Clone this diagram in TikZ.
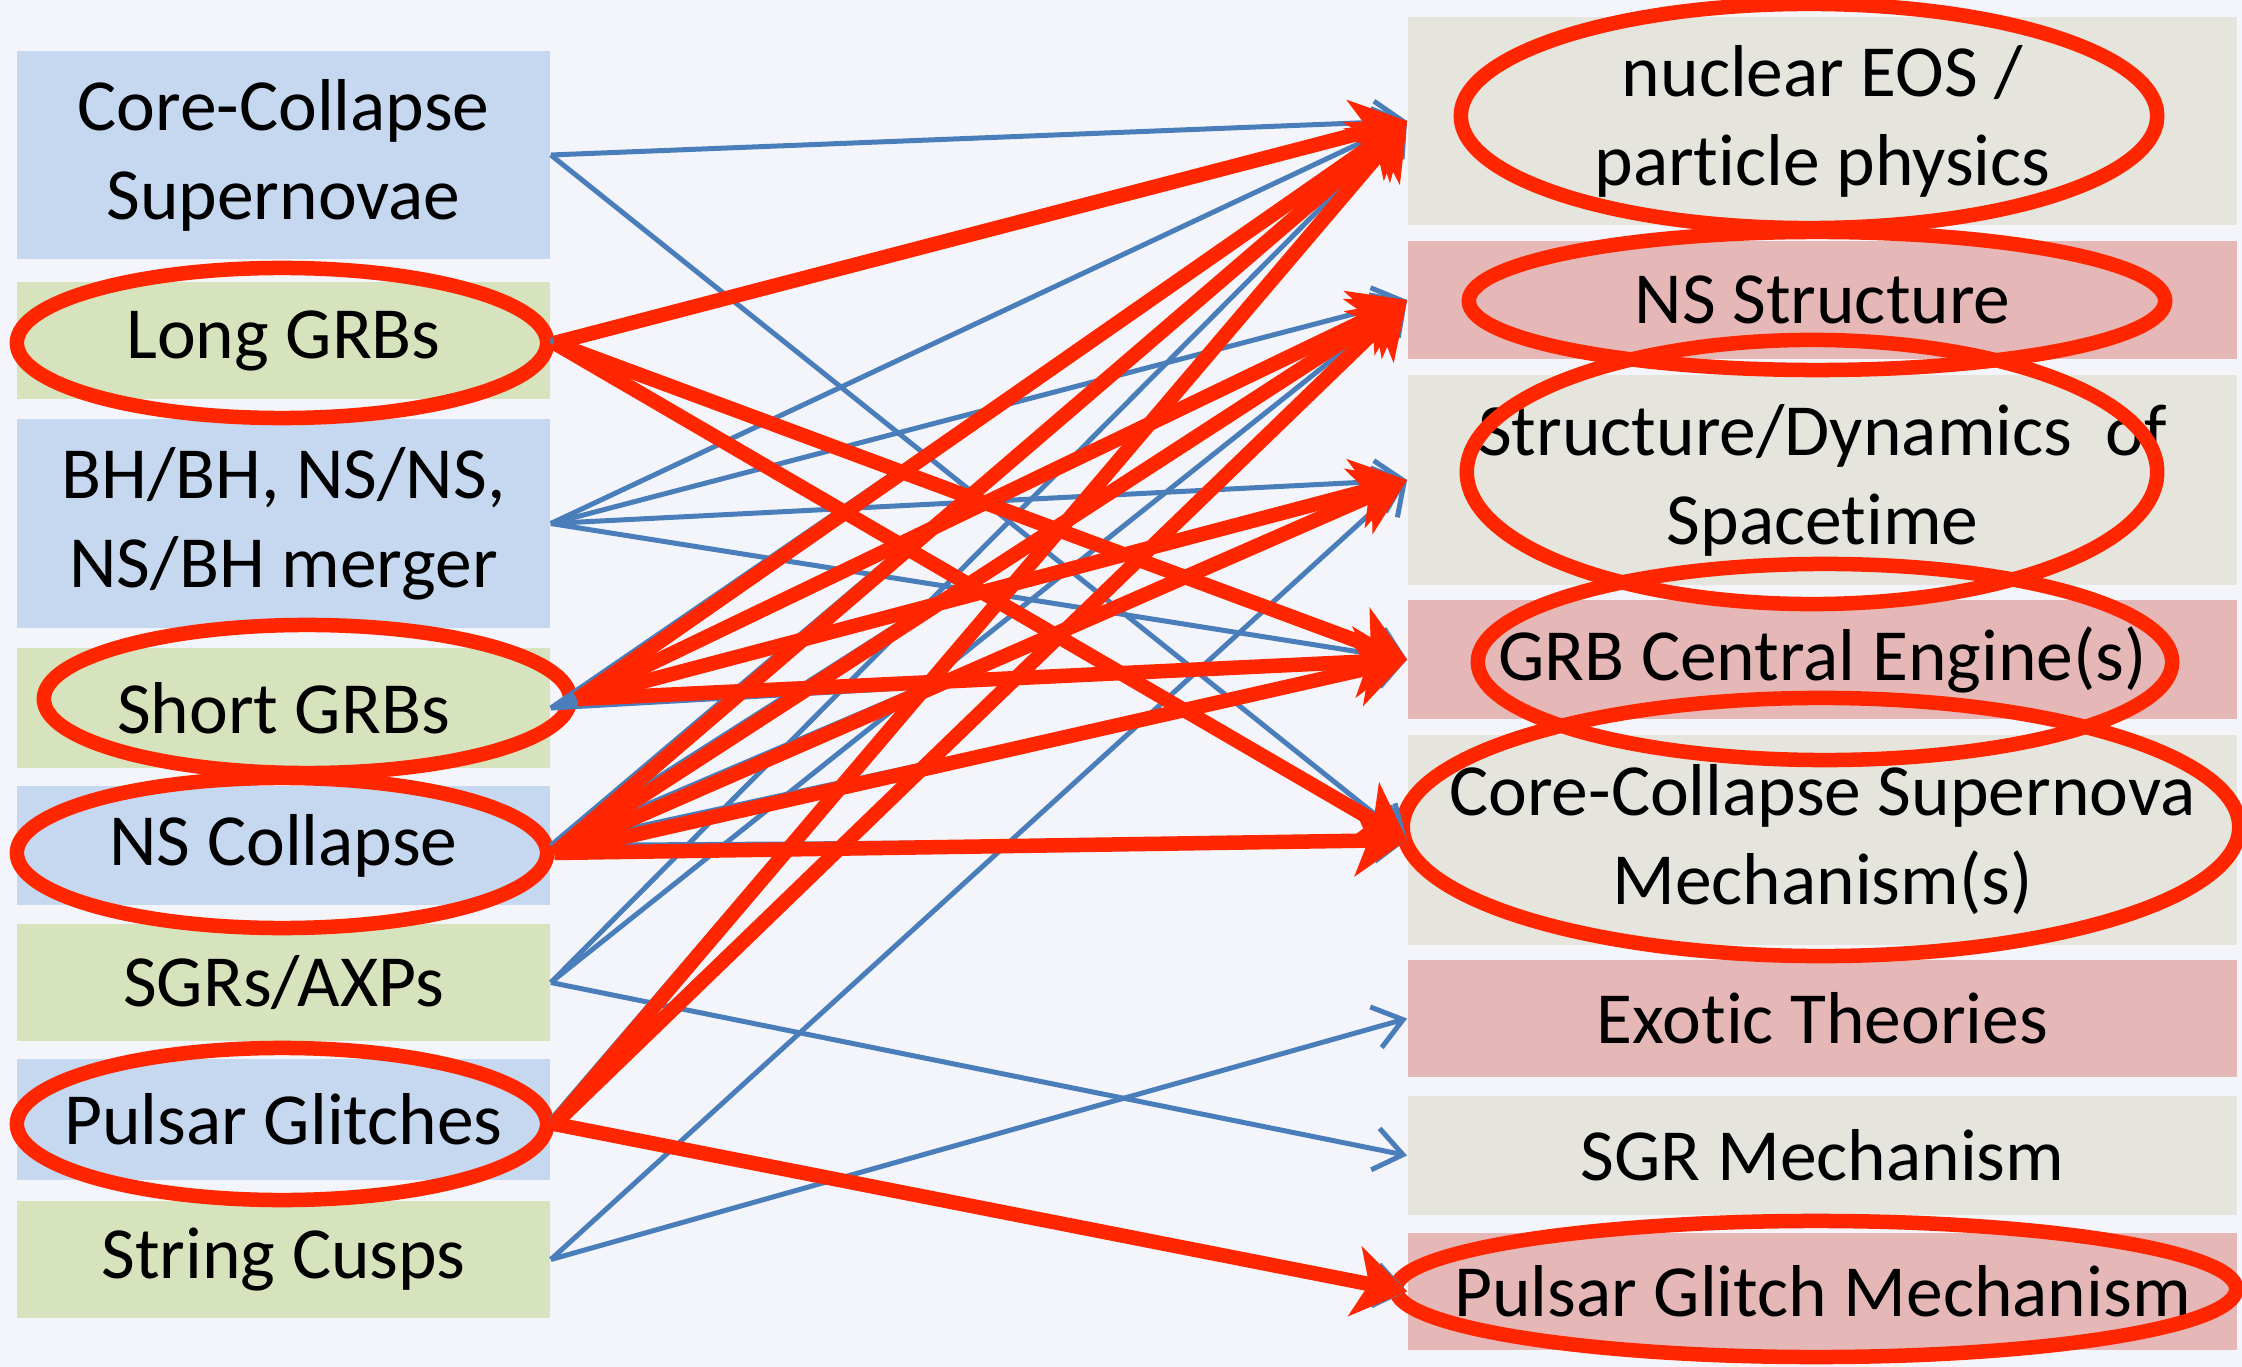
\documentclass[tikz,border=0pt]{standalone}
\usepackage{fontspec}
\setmainfont[Ligatures=NoCommon]{Carlito}
\usetikzlibrary{arrows.meta,shapes.geometric}
\definecolor{bg}{HTML}{F4F5FA}
\definecolor{lblue}{HTML}{C6D8EF}
\definecolor{lgreen}{HTML}{D7E3BD}
\definecolor{rgray}{HTML}{E5E5DE}
\definecolor{rpink}{HTML}{E5B8B7}
\definecolor{lineblue}{HTML}{4A7EBB}
\definecolor{hired}{HTML}{FF2600}
\tikzset{
  box/.style={inner sep=0pt, align=center, font=\fontsize{20.9}{25.3}\selectfont, text=black},
  lbox/.style={box, minimum width=5.33cm},
  rbox/.style={box, minimum width=8.29cm},
  bl/.style={draw=lineblue, line width=0.05cm, -{Straight Barb[length=8pt,width=12pt]}},
  rd/.style={draw=hired, line width=0.145cm, -{Stealth[length=15pt,width=20pt,inset=4pt]}},
  ring/.style={ellipse, draw=hired, line width=0.145cm, inner sep=0pt},
}
\begin{document}
\begin{tikzpicture}[x=0.01cm,y=-0.01cm]
\fill[bg] (0,0) rectangle (2242,1367);
\useasboundingbox (0,0) rectangle (2242,1367);
% left column
\node[lbox, fill=lblue,  minimum height=2.08cm] (cc) at (283.5,155)    {Core-Collapse\\Supernovae};
\node[lbox, fill=lgreen, minimum height=1.17cm] (lg) at (283.5,340.5)  {Long GRBs};
\node[lbox, fill=lblue,  minimum height=2.09cm] (bh) at (283.5,523.5)  {BH/BH, NS/NS,\\NS/BH merger};
\node[lbox, fill=lgreen, minimum height=1.20cm] (sg) at (283.5,708)    {Short GRBs};
\node[lbox, fill=lblue,  minimum height=1.19cm] (ns) at (283.5,845.5)  {NS Collapse};
\node[lbox, fill=lgreen, minimum height=1.17cm] (sx) at (283.5,982.5)  {SGRs/AXPs};
\node[lbox, fill=lblue,  minimum height=1.21cm] (pg) at (283.5,1119.5) {Pulsar Glitches};
\node[lbox, fill=lgreen, minimum height=1.17cm] (sc) at (283.5,1259.5) {String Cusps};
% right column
\node[rbox, fill=rgray, minimum height=2.08cm] (eos)  at (1822.5,121)    {nuclear EOS /\\part\kern0pt icle physics};
\node[rbox, fill=rpink, minimum height=1.18cm] (nss)  at (1822.5,300)    {NS Structure};
\node[rbox, fill=rgray, minimum height=2.10cm] (sd)   at (1822.5,480)    {Structure/Dynamics~~of\\Spacet\kern0pt ime};
\node[rbox, fill=rpink, minimum height=1.19cm] (grb)  at (1822.5,659.5)  {GRB Central Engine(s)};
\node[rbox, fill=rgray, minimum height=2.10cm] (ccm)  at (1822.5,840)    {Core-Collapse Supernova\\Mechanism(s)};
\node[rbox, fill=rpink, minimum height=1.17cm] (exo)  at (1822.5,1018.5) {Exot\kern0pt ic Theories};
\node[rbox, fill=rgray, minimum height=1.19cm] (sgrm) at (1822.5,1155.5) {SGR Mechanism};
\node[rbox, fill=rpink, minimum height=1.17cm] (pgm)  at (1822.5,1291.5) {Pulsar Glitch Mechanism};
% red rings
\node[ring, minimum width=5.30cm, minimum height=1.50cm] (elg)  at (282,343)  {};
\node[ring, minimum width=5.26cm, minimum height=1.48cm] (esg)  at (307,699)  {};
\node[ring, minimum width=5.30cm, minimum height=1.50cm] (ens)  at (282,853)  {};
\node[ring, minimum width=5.30cm, minimum height=1.52cm] (epg)  at (282,1124) {};
\node[ring, minimum width=6.96cm, minimum height=2.24cm] (eeos) at (1809,116) {};
\node[ring, minimum width=6.96cm, minimum height=1.38cm] (enss) at (1817,301) {};
\node[ring, minimum width=6.90cm, minimum height=2.64cm] (esd)  at (1812,472) {};
\node[ring, minimum width=6.94cm, minimum height=1.96cm] (egrb) at (1825,662) {};
\node[ring, minimum width=8.36cm, minimum height=2.58cm] (eccm) at (1821,827) {};
\node[ring, minimum width=8.40cm, minimum height=1.36cm] (epgm) at (1816,1289) {};
% blue connectors
\draw[bl] (cc.east) -- (eos.west);
\draw[bl] (cc.east) -- (ccm.west);
\draw[bl] (lg.east) -- (eos.west);
\draw[bl] (lg.east) -- (grb.west);
\draw[bl] (lg.east) -- (ccm.west);
\draw[bl] (bh.east) -- (eos.west);
\draw[bl] (bh.east) -- (nss.west);
\draw[bl] (bh.east) -- (sd.west);
\draw[bl] (bh.east) -- (grb.west);
\draw[bl] (sg.east) -- (eos.west);
\draw[bl] (sg.east) -- (nss.west);
\draw[bl] (sg.east) -- (sd.west);
\draw[bl] (sg.east) -- (grb.west);
\draw[bl] (ns.east) -- (eos.west);
\draw[bl] (ns.east) -- (nss.west);
\draw[bl] (ns.east) -- (sd.west);
\draw[bl] (ns.east) -- (grb.west);
\draw[bl] (ns.east) -- (ccm.west);
\draw[bl] (sx.east) -- (eos.west);
\draw[bl] (sx.east) -- (nss.west);
\draw[bl] (sx.east) -- (sgrm.west);
\draw[bl] (pg.east) -- (eos.west);
\draw[bl] (pg.east) -- (nss.west);
\draw[bl] (pg.east) -- (pgm.west);
\draw[bl] (sc.east) -- (sd.west);
\draw[bl] (sc.east) -- (exo.west);
% red connectors
\draw[rd] (elg.east) -- (eos.west);
\draw[rd] (elg.east) -- (grb.west);
\draw[rd] (elg.east) -- (ccm.west);
\draw[rd] (esg.east) -- (eos.west);
\draw[rd] (esg.east) -- (nss.west);
\draw[rd] (esg.east) -- (sd.west);
\draw[rd] (esg.east) -- (grb.west);
\draw[rd] (ens.east) -- (eos.west);
\draw[rd] (ens.east) -- (nss.west);
\draw[rd] (ens.east) -- (sd.west);
\draw[rd] (ens.east) -- (grb.west);
\draw[rd] (ens.east) -- (ccm.west);
\draw[rd] (epg.east) -- (eos.west);
\draw[rd] (epg.east) -- (nss.west);
\draw[rd] (epg.east) -- (pgm.west);
\end{tikzpicture}
\end{document}
